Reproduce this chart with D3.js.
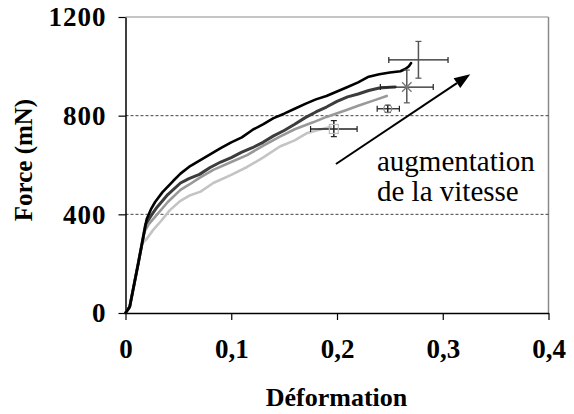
<!DOCTYPE html>
<html><head><meta charset="utf-8">
<script src="https://cdn.jsdelivr.net/npm/d3@7"></script>
<style>body{margin:0;background:#fff}svg{display:block}
svg text{font-family:"Liberation Serif","Times New Roman","DejaVu Serif",serif !important;}
</style>
</head><body>
<script>
// ---- data ----
const xTicks = [0, 0.1, 0.2, 0.3, 0.4];
const yTicks = [0, 400, 800, 1200];
const xTickLabels = ["0", "0,1", "0,2", "0,3", "0,4"];
const yTickLabels = ["0", "400", "800", "1200"];
const gridValues = [400, 800];

const curveBlack = [[0,0],[0.004,25],[0.012,200],[0.020,380],[0.024,420],[0.028,450],[0.035,490],[0.045,535],[0.052,565],[0.060,592],[0.070,618],[0.080,643],[0.090,668],[0.100,692],[0.110,712],[0.120,742],[0.130,765],[0.140,790],[0.150,808],[0.160,828],[0.170,848],[0.180,866],[0.190,880],[0.200,898],[0.210,916],[0.220,935],[0.230,958],[0.240,968],[0.250,975],[0.260,980],[0.265,990],[0.268,1000],[0.270,1013]];
const curveDark = [[0,0],[0.004,25],[0.012,200],[0.019,360],[0.025,400],[0.030,430],[0.040,480],[0.052,527],[0.060,545],[0.070,562],[0.080,590],[0.090,612],[0.100,630],[0.110,652],[0.120,670],[0.130,692],[0.140,718],[0.150,740],[0.160,765],[0.170,792],[0.180,815],[0.190,835],[0.200,858],[0.210,876],[0.220,888],[0.230,902],[0.240,912],[0.250,915],[0.255,916]];
const curveMid = [[0,0],[0.004,25],[0.012,200],[0.018,330],[0.022,360],[0.030,400],[0.040,450],[0.052,499],[0.060,520],[0.070,548],[0.083,580],[0.100,612],[0.115,640],[0.130,678],[0.146,715],[0.160,745],[0.178,774],[0.190,795],[0.209,823],[0.220,840],[0.235,862],[0.247,880]];
const curveLight = [[0,0],[0.004,25],[0.010,160],[0.016,284],[0.020,300],[0.026,336],[0.034,375],[0.042,417],[0.052,455],[0.060,475],[0.071,492],[0.083,527],[0.100,560],[0.115,592],[0.130,630],[0.146,675],[0.160,700],[0.172,730],[0.185,745],[0.194,754]];

// error-bar points: mean x, mean F, x range, F range
const pointX    = [0.277, 0.266, 0.248, 0.197];
const pointF    = [1026, 916, 828, 746];
const pointXLo  = [0.249, 0.241, 0.238, 0.175];
const pointXHi  = [0.305, 0.291, 0.259, 0.219];
const pointFLo  = [952, 852, 813, 715];
const pointFHi  = [1101, 985, 842, 780];
const pointMark = ["plus", "cross", "circle", "square"];

const arrowFrom = [0.199, 604];
const arrowTo   = [0.326, 968];
const annotation = ["augmentation", "de la vitesse"];

// ---- drawing ----
const W = 574, H = 414;
const svg = d3.select("body").append("svg").attr("width", W).attr("height", H);
const x = d3.scaleLinear().domain([0, 0.4]).range([125.5, 548.5]);
const y = d3.scaleLinear().domain([0, 1200]).range([313, 17]);

// plot frame (top/right grey)
svg.append("line").attr("x1", x(0)).attr("x2", x(0.4)).attr("y1", y(1200)).attr("y2", y(1200))
  .attr("stroke", "#8a8a8a").attr("stroke-width", 1.2);
svg.append("line").attr("x1", x(0.4)).attr("x2", x(0.4)).attr("y1", y(1200)).attr("y2", y(0))
  .attr("stroke", "#8a8a8a").attr("stroke-width", 1.5);

// gridlines
svg.selectAll(".grid").data(gridValues).enter().append("line")
  .attr("x1", x(0)).attr("x2", x(0.4)).attr("y1", d => y(d)).attr("y2", d => y(d))
  .attr("stroke", "#444").attr("stroke-width", 1).attr("stroke-dasharray", "3,2");

// axes
const xAxis = d3.axisBottom(x).tickValues(xTicks).tickSize(7).tickSizeOuter(0).tickFormat((d, i) => xTickLabels[i]);
const gx = svg.append("g").attr("transform", `translate(0,${y(0)})`).call(xAxis);
gx.attr("font-family", null);
gx.select(".domain").attr("stroke", "#000").attr("stroke-width", 1.5);
gx.selectAll(".tick line").attr("stroke", "#000").attr("stroke-width", 1.2);
gx.selectAll(".tick text").attr("font-weight", "bold").attr("font-size", 27)
  .attr("fill", "#000").attr("dy", 0).attr("y", 45);

const yAxis = d3.axisLeft(y).tickValues(yTicks).tickSize(7).tickSizeOuter(0).tickFormat((d, i) => yTickLabels[i]);
const gy = svg.append("g").attr("transform", `translate(${x(0)},0)`).call(yAxis);
gy.attr("font-family", null);
gy.select(".domain").attr("stroke", "#000").attr("stroke-width", 1.5);
gy.selectAll(".tick line").attr("stroke", "#000").attr("stroke-width", 1.2);
gy.selectAll(".tick text").attr("font-weight", "bold").attr("font-size", 27)
  .attr("fill", "#000").attr("x", -19).attr("dy", "0.33em").attr("letter-spacing", 1);

// curves
const line = d3.line().x(d => x(d[0])).y(d => y(d[1]));
const curves = [
  {data: curveLight, color: "#c4c4c4", w: 2.6},
  {data: curveMid, color: "#999999", w: 2.6},
  {data: curveDark, color: "#3c3c3c", w: 3},
  {data: curveBlack, color: "#000000", w: 2.6}
];
svg.selectAll(".curve").data(curves).enter().append("path")
  .attr("d", d => line(d.data)).attr("fill", "none")
  .attr("stroke", d => d.color).attr("stroke-width", d => d.w)
  .attr("stroke-linejoin", "round").attr("stroke-linecap", "round");

// error bars
const cap = 3;
pointX.forEach((px, i) => {
  const g = svg.append("g");
  const cx = x(px), cy = y(pointF[i]);
  const xl = x(pointXLo[i]), xh = x(pointXHi[i]), yl = y(pointFLo[i]), yh = y(pointFHi[i]);
  const vcol = i === 0 || i === 1 ? "#555" : "#222";
  g.append("line").attr("x1", xl).attr("x2", xh).attr("y1", cy).attr("y2", cy).attr("stroke", "#222").attr("stroke-width", 1.3);
  g.append("line").attr("x1", xl).attr("x2", xl).attr("y1", cy - cap).attr("y2", cy + cap).attr("stroke", "#222").attr("stroke-width", 1.2);
  g.append("line").attr("x1", xh).attr("x2", xh).attr("y1", cy - cap).attr("y2", cy + cap).attr("stroke", "#222").attr("stroke-width", 1.2);
  g.append("line").attr("x1", cx).attr("x2", cx).attr("y1", yl).attr("y2", yh).attr("stroke", vcol).attr("stroke-width", 1.5);
  g.append("line").attr("x1", cx - cap).attr("x2", cx + cap).attr("y1", yl).attr("y2", yl).attr("stroke", vcol).attr("stroke-width", 1.2);
  g.append("line").attr("x1", cx - cap).attr("x2", cx + cap).attr("y1", yh).attr("y2", yh).attr("stroke", vcol).attr("stroke-width", 1.2);
  const m = pointMark[i];
  if (m === "cross") {
    g.append("path").attr("d", d3.symbol(d3.symbolX, 60)()).attr("transform", `translate(${cx},${cy})`)
      .attr("fill", "none").attr("stroke", "#777").attr("stroke-width", 1.3);
  } else if (m === "circle") {
    g.append("circle").attr("cx", cx).attr("cy", cy).attr("r", 4).attr("fill", "none").attr("stroke", "#888").attr("stroke-width", 1.2);
  } else if (m === "square") {
    g.append("rect").attr("x", cx - 4.5).attr("y", cy - 4.5).attr("width", 9).attr("height", 9).attr("fill", "none").attr("stroke", "#bbb").attr("stroke-width", 1.2);
  }
});

// arrow
const ax1 = x(arrowFrom[0]), ay1 = y(arrowFrom[1]), ax2 = x(arrowTo[0]), ay2 = y(arrowTo[1]);
const ang = Math.atan2(ay2 - ay1, ax2 - ax1);
const hl = 16, hw = 6;
const bx = ax2 - hl * Math.cos(ang), by = ay2 - hl * Math.sin(ang);
svg.append("line").attr("x1", ax1).attr("y1", ay1).attr("x2", bx).attr("y2", by).attr("stroke", "#000").attr("stroke-width", 2);
svg.append("path").attr("d", `M${ax2},${ay2}L${bx - hw * Math.sin(ang)},${by + hw * Math.cos(ang)}L${bx + hw * Math.sin(ang)},${by - hw * Math.cos(ang)}Z`).attr("fill", "#000");

// annotation text
svg.selectAll(".ann").data(annotation).enter().append("text")
  .attr("x", 377).attr("y", (d, i) => 171 + i * 30)
  .attr("font-size", 29).attr("fill", "#000").text(d => d);

// axis titles
svg.append("text").attr("x", 336.5).attr("y", 406).attr("text-anchor", "middle")
  .attr("font-weight", "bold").attr("font-size", 26).text("Déformation");
svg.append("text").attr("transform", "translate(32,160) rotate(-90)").attr("text-anchor", "middle")
  .attr("font-weight", "bold").attr("font-size", 25).text("Force (mN)");
</script>
</body></html>
